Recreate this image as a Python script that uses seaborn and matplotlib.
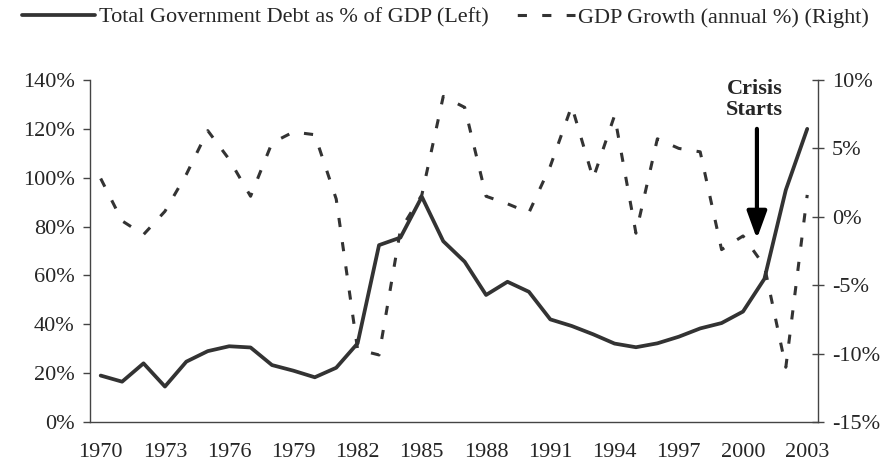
import numpy as np
import pandas as pd
import matplotlib
matplotlib.use("Agg")
import matplotlib.pyplot as plt
import seaborn as sns
from matplotlib.ticker import FixedLocator, PercentFormatter

# data
years = list(range(1970, 2004))
debt_pct = [19, 16.5, 24, 14.5, 24.7, 29, 31, 30.5, 23.3, 21, 18.3, 22.2, 32.2, 72.4,
            75.5, 92.2, 74, 65.6, 52, 57.4, 53.3, 42, 39.3, 35.9, 32.1, 30.6, 32.2,
            34.9, 38.3, 40.5, 45.2, 58.6, 95, 120]
gdp_growth = [2.8, -0.3, -1.3, 0.4, 3.1, 6.3, 4.2, 1.5, 5.4, 6.2, 6.0, 1.3, -9.7, -10.1,
              -0.95, 1.6, 8.8, 8.0, 1.5, 0.95, 0.3, 3.7, 8.1, 2.8, 7.4, -1.2, 5.7, 5.0,
              4.75, -2.4, -1.4, -3.6, -11.0, 1.6]
tick_years = years[::3]

df = pd.DataFrame({"pos": np.arange(len(years)), "debt": debt_pct, "gdp": gdp_growth})

sns.set_style("white")
plt.rcParams["font.family"] = ["Liberation Serif", "DejaVu Serif"]
plt.rcParams["font.size"] = 16
plt.rcParams["axes.unicode_minus"] = False

line_col = "#333333"
axis_col = "#444444"

fig = plt.figure(figsize=(8.91, 4.63), dpi=100)
ax = fig.add_axes([0.101, 0.0886, 0.817, 0.7386])
ax2 = ax.twinx()

sns.lineplot(data=df, x="pos", y="debt", ax=ax, color=line_col, linewidth=2.7,
             label="Total Government Debt as % of GDP (Left)", legend=False)
sns.lineplot(data=df, x="pos", y="gdp", ax=ax2, color=line_col, linewidth=2.2,
             linestyle=(0, (3, 5)), label="GDP Growth (annual %) (Right)", legend=False)

ax.set_xlim(-0.5, len(years) - 0.5)
ax.set_ylim(0, 140)
ax2.set_ylim(-15, 10)

# category axis: labels every 3 years, tick marks at category boundaries
ax.xaxis.set_major_locator(FixedLocator([years.index(y) for y in tick_years]))
ax.set_xticklabels([str(y) for y in tick_years])
ax.xaxis.set_minor_locator(FixedLocator(np.arange(-0.5, len(years), 1.0)))
ax.tick_params(axis="x", which="major", length=0, pad=15, labelsize=16)
ax.tick_params(axis="x", which="minor", length=5, width=1, color=axis_col, direction="out")

ax.set_yticks(np.arange(0, 141, 20))
ax.yaxis.set_major_formatter(PercentFormatter(decimals=0))
ax.tick_params(axis="y", length=5, width=1, color=axis_col, direction="out", pad=6,
               labelsize=16)

ax2.set_yticks(np.arange(-15, 11, 5))
ax2.yaxis.set_major_formatter(PercentFormatter(decimals=0))
ax2.tick_params(axis="y", length=8, width=1, color=axis_col, direction="inout", pad=6,
                labelsize=16)

ax.set_xlabel("")
ax.set_ylabel("")
ax2.set_ylabel("")

for a in (ax, ax2):
    a.spines["top"].set_visible(False)
    for s in ("left", "right", "bottom"):
        a.spines[s].set_color(axis_col)
        a.spines[s].set_linewidth(1)
ax.spines["right"].set_visible(False)
ax2.spines["left"].set_visible(False)
ax2.spines["bottom"].set_visible(False)

# crisis marker
crisis_x = 30.65
ax.annotate("", xy=(crisis_x, 75), xytext=(crisis_x, 120),
            arrowprops=dict(arrowstyle="-|>,head_length=1.1,head_width=0.4",
                            lw=3, color="black", mutation_scale=15,
                            shrinkA=0, shrinkB=0))
ax.text(crisis_x - 0.1, 132, "Crisis\nStarts", ha="center", va="center",
        fontweight="bold", fontsize=16, linespacing=1.1, clip_on=False)

# legend across the top
h1, l1 = ax.get_legend_handles_labels()
h2, l2 = ax2.get_legend_handles_labels()
leg = fig.legend(h1 + h2, l1 + l2, loc="center", bbox_to_anchor=(0.5, 0.962), ncol=2,
                 frameon=False, handlelength=3.3, handletextpad=0.15, columnspacing=0.6,
                 fontsize=16)
# shift the dash pattern so the legend sample ends on a dash, like the original
leg.get_lines()[1].set_linestyle((3, (3, 5)))

fig.savefig("out.png", dpi=100)
